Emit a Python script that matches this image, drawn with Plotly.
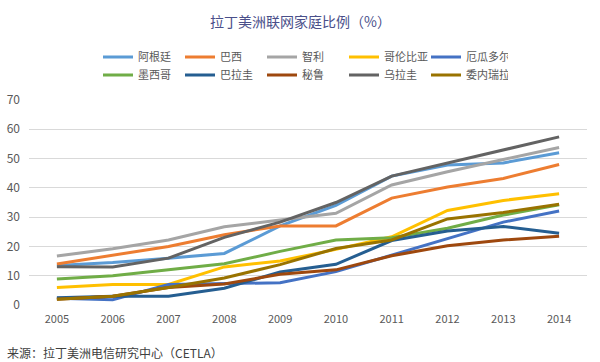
import plotly.graph_objects as go

years = ["2005", "2006", "2007", "2008", "2009", "2010", "2011", "2012", "2013", "2014"]

argentina = [13.5, 14.5, 16, 17.6, 27, 34, 44, 47.8, 48.5, 52]
brazil = [14, 17, 20, 24, 27, 27, 36.5, 40.3, 43.2, 48]
chile = [16.7, 19.2, 22.2, 26.7, 29, 31.3, 41, 45.5, 49.7, 53.8]
colombia = [6, 7, 7, 13, 15, 19, 23.3, 32.3, 35.7, 38]
ecuador = [2.3, 1.8, 7, 7.3, 7.6, 11.4, 17, 22.7, 28.3, 32.1]
mexico = [8.9, 10, 12, 14.1, 18.3, 22.2, 23, 26.2, 30.7, 34.2]
paraguay = [2.5, 3, 3, 5.7, 11.3, 13.9, 22, 25.3, 26.8, 24.5]
peru = [2, 3, 6, 7.2, 10.5, 12, 16.8, 20.2, 22.2, 23.5]
uruguay = [13.1, 13, 16, 23.1, 28.3, 35, 44, 48.4, 52.8, 57.4]
venezuela = [2, 3, 6, 9.2, 13.8, 19.3, 22.2, 29.4, 31.6, 34.4]

names = ["阿根廷", "巴西", "智利", "哥伦比亚", "厄瓜多尔",
         "墨西哥", "巴拉圭", "秘鲁", "乌拉圭", "委内瑞拉"]
series = [argentina, brazil, chile, colombia, ecuador,
          mexico, paraguay, peru, uruguay, venezuela]
colors = ["#5B9BD5", "#ED7D31", "#A5A5A5", "#FFC000", "#4472C4",
          "#70AD47", "#255E91", "#9E480E", "#636363", "#997300"]

font_family = "Noto Sans CJK SC, Noto Sans, sans-serif"

fig = go.Figure()
for i, (n, s, c) in enumerate(zip(names, series, colors)):
    fig.add_trace(go.Scatter(
        x=years, y=s, name=n, mode="lines",
        line=dict(color=c, width=3),
        legend="legend" if i < 5 else "legend2",
    ))

legend_common = dict(
    orientation="h", xanchor="left", yanchor="middle",
    x=(98 - 29) / 558, entrywidth=37, entrywidthmode="pixels",
    font=dict(size=11, color="#595959", family=font_family),
    bgcolor="rgba(0,0,0,0)", itemwidth=30, tracegroupgap=0,
)

fig.update_layout(
    width=600, height=362,
    margin=dict(l=29, r=13, t=100, b=57, autoexpand=False),
    paper_bgcolor="white", plot_bgcolor="white",
    font=dict(family=font_family, color="#595959"),
    showlegend=True,
    legend=dict(legend_common, y=1 + (100 - 57) / 205),
    legend2=dict(legend_common, y=1 + (100 - 75) / 205),
    xaxis=dict(
        type="category", range=[-0.5, 9.5], showgrid=False,
        showline=False, zeroline=False, ticks="",
        tickfont=dict(size=11, color="#595959"), ticklabelstandoff=6,
    ),
    yaxis=dict(
        range=[0, 70], dtick=10, showgrid=True, gridcolor="#D9D9D9",
        gridwidth=1, zeroline=False, showline=False, ticks="",
        tickfont=dict(size=12, color="#595959"), ticklabelstandoff=8,
    ),
    annotations=[
        dict(text="拉丁美洲联网家庭比例（%）", xref="paper", yref="paper",
             x=(300 - 29) / 558, y=1 + (100 - 21) / 205,
             xanchor="center", yanchor="middle", showarrow=False,
             font=dict(size=14, color="#4A4F8A", family=font_family)),
        dict(text="来源：拉丁美洲电信研究中心（CETLA）", xref="paper", yref="paper",
             x=(5 - 29) / 558, y=-(352 - 305) / 205,
             xanchor="left", yanchor="middle", showarrow=False,
             font=dict(size=12, color="#404040", family=font_family)),
    ],
)

fig.write_html("out.html", config={"displayModeBar": False},
               post_script="document.body.style.margin='0';")
